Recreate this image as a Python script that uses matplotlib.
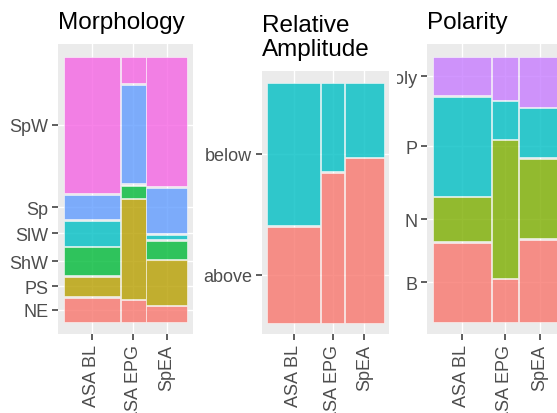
import numpy as np
import matplotlib.pyplot as plt
from matplotlib.patches import Rectangle
from matplotlib.colors import to_rgba
from matplotlib.transforms import Bbox

plt.rcParams['font.family'] = ['Liberation Sans', 'DejaVu Sans']

# groups on the x axis and their share of the samples (column widths, %)
groups = ["ASA BL", "ASA EPG", "SpEA"]
group_share = [46.0, 20.5, 33.5]

# Morphology, % within each group
morph_levels = ["NE", "PS", "ShW", "SlW", "Sp", "SpW"]
morph_bl = [9.2, 7.7, 10.8, 9.6, 9.6, 53.1]
morph_epg = [8.2, 38.8, 4.3, 0.0, 38.4, 10.2]
morph_spea = [5.9, 17.3, 7.1, 1.6, 17.7, 50.4]
morph_colors = ["#F8766D", "#B79F00", "#00BA38", "#00BFC4", "#619CFF", "#F564E3"]

# Relative amplitude, %
amp_levels = ["above", "below"]
amp_bl = [40.2, 59.8]
amp_epg = [62.8, 37.2]
amp_spea = [69.0, 31.0]
amp_colors = ["#F8766D", "#00BFC4"]

# Polarity, %
pol_levels = ["B", "N", "P", "Poly"]
pol_bl = [30.3, 16.9, 37.9, 14.9]
pol_epg = [16.2, 52.9, 14.3, 16.6]
pol_spea = [31.5, 30.4, 18.8, 19.2]
pol_colors = ["#F8766D", "#7CAE00", "#00BFC4", "#C77CFF"]

W, H = 557, 414
fig = plt.figure(figsize=(W / 100, H / 100), dpi=100)


def px_axes(x0, y0, x1, y1):
    return fig.add_axes([x0 / W, 1 - y1 / H, (x1 - x0) / W, (y1 - y0) / H])


def mosaic(ax, title, levels, cols, colors):
    gap = 0.006
    shares = np.array(group_share) / sum(group_share)
    widths = shares * (1 - gap * (len(shares) - 1))
    xs = np.concatenate([[0], np.cumsum(widths + gap)[:-1]])
    ymid0 = None
    for x, w, vals in zip(xs, widths, cols):
        v = np.array(vals) / sum(vals)
        hs = v * (1 - gap * (len(v) - 1))
        ys = np.concatenate([[0], np.cumsum(hs + gap)[:-1]])
        for y, h, c in zip(ys, hs, colors):
            ax.add_patch(Rectangle((x, y), w, h, facecolor=to_rgba(c, 0.8),
                                   edgecolor=(1, 1, 1, 0.6), lw=0.6, zorder=2))
        if ymid0 is None:
            ymid0 = ys + hs / 2
    ax.set_xlim(-0.045, 1.045)
    ax.set_ylim(-0.047, 1.048)
    ax.set_facecolor("#EBEBEB")
    for s in ax.spines.values():
        s.set_visible(False)
    ax.set_xticks(xs + widths / 2)
    ax.set_xticklabels(groups, rotation=90, va="top", ha="center")
    ax.set_yticks(ymid0)
    ax.set_yticklabels(levels)
    ax.grid(True, color="white", lw=1.0, zorder=0)
    ax.set_axisbelow(True)
    ax.tick_params(length=4, width=1.1, color="#333333", labelcolor="#4D4D4D",
                   labelsize=13, pad=3)
    ax.set_title(title, loc="left", fontsize=17.5, color="black", pad=11.5,
                 linespacing=1.1)
    return ax


ax1 = px_axes(58, 45, 193, 335)
mosaic(ax1, "Morphology", morph_levels, [morph_bl, morph_epg, morph_spea], morph_colors)

ax2 = px_axes(262, 72, 389, 335)
mosaic(ax2, "Relative\nAmplitude", amp_levels, [amp_bl, amp_epg, amp_spea], amp_colors)

ax3 = px_axes(427, 45, 567, 335)
mosaic(ax3, "Polarity", pol_levels, [pol_bl, pol_epg, pol_spea], pol_colors)

# the Poly label is cut off at the edge of its cell in the reference
clip = Bbox.from_extents(397, 0, W, H)
for lab in ax3.get_yticklabels():
    lab.set_clip_on(True)
    lab.set_clip_box(clip)

fig.savefig("out.png", dpi=100)
